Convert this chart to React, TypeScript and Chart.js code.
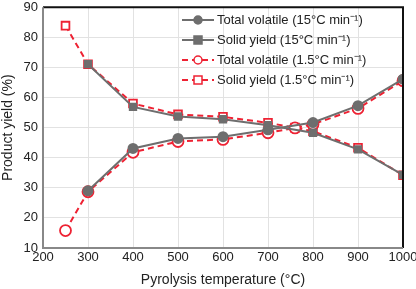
import React, { useEffect, useRef } from "react";
import { Chart, registerables } from "chart.js";

Chart.register(...registerables);

const xFast = [300, 400, 500, 600, 700, 800, 900, 1000];
const volatileFast = [29.0, 43.1, 46.4, 47.0, 49.3, 51.7, 57.3, 66.1];
const solidFast = [71.1, 56.9, 53.7, 52.8, 50.8, 48.3, 42.8, 34.3];

const xSlow = [250, 300, 400, 500, 600, 700, 760, 800, 900, 1000];
const volatileSlow = [15.8, 28.7, 41.8, 45.4, 46.1, 48.3, 49.9, 51.1, 56.4, 65.6];
const solidSlow = [83.9, 71.1, 58.0, 54.4, 53.6, 51.6, 50.0, 48.8, 43.3, 34.2];

const legendLabels = [
  "Total volatile (15\u00B0C min\u207B\u00B9)",
  "Solid yield (15\u00B0C min\u207B\u00B9)",
  "Total volatile (1.5\u00B0C min\u207B\u00B9)",
  "Solid yield (1.5\u00B0C min\u207B\u00B9)",
];

const GREY = "#6e6e6e";
const RED = "#ee2233";
const FONT = "'Liberation Sans', Arial, sans-serif";

const toPts = (xs: number[], ys: number[]) => xs.map((x, i) => ({ x, y: ys[i] }));

const framePlugin = {
  id: "frame",
  afterDatasetsDraw(chart: any) {
    const { ctx, chartArea: a } = chart;
    ctx.save();
    ctx.lineWidth = 2;
    ctx.strokeStyle = "#111";
    ctx.beginPath();
    ctx.moveTo(a.left, a.top);
    ctx.lineTo(a.right, a.top);
    ctx.lineTo(a.right, a.bottom);
    ctx.stroke();
    ctx.strokeStyle = "#888";
    ctx.beginPath();
    ctx.moveTo(a.left, a.top);
    ctx.lineTo(a.left, a.bottom);
    ctx.lineTo(a.right, a.bottom);
    ctx.stroke();
    ctx.restore();
  },
};

const legendPlugin = {
  id: "customLegend",
  afterDraw(chart: any) {
    const { ctx } = chart;
    const x0 = 182, x1 = 214, tx = 217;
    const rows = [20, 40, 60, 80];
    ctx.save();
    rows.forEach((y, i) => {
      const ds = chart.data.datasets[i];
      ctx.strokeStyle = ds.borderColor;
      ctx.lineWidth = 2;
      ctx.setLineDash(i >= 2 ? [6, 4] : []);
      ctx.beginPath();
      ctx.moveTo(x0, y);
      ctx.lineTo(x1, y);
      ctx.stroke();
      ctx.setLineDash([]);
      const cx = (x0 + x1) / 2;
      ctx.fillStyle = ds.pointBackgroundColor;
      ctx.strokeStyle = ds.borderColor;
      ctx.lineWidth = 1.5;
      ctx.beginPath();
      if (ds.pointStyle === "circle") ctx.arc(cx, y, 4, 0, Math.PI * 2);
      else ctx.rect(cx - 4, y - 4, 8, 8);
      ctx.fill();
      ctx.stroke();
      ctx.fillStyle = "#222";
      ctx.font = `13px ${FONT}`;
      ctx.textBaseline = "middle";
      ctx.textAlign = "left";
      ctx.fillText(legendLabels[i], tx, y);
    });
    ctx.restore();
  },
};

export default function App() {
  const ref = useRef<HTMLCanvasElement | null>(null);
  useEffect(() => {
    document.body.style.margin = "0";
    const chart = new Chart(ref.current as HTMLCanvasElement, {
      type: "line",
      data: {
        datasets: [
          {
            label: legendLabels[0],
            data: toPts(xFast, volatileFast),
            borderColor: GREY,
            backgroundColor: GREY,
            pointBackgroundColor: GREY,
            pointStyle: "circle",
            pointRadius: 4.5,
            borderWidth: 2,
          },
          {
            label: legendLabels[1],
            data: toPts(xFast, solidFast),
            borderColor: GREY,
            backgroundColor: GREY,
            pointBackgroundColor: GREY,
            pointStyle: "rect",
            pointRadius: 4.5,
            borderWidth: 2,
          },
          {
            label: legendLabels[2],
            data: toPts(xSlow, volatileSlow),
            borderColor: RED,
            backgroundColor: "#fff",
            pointBackgroundColor: "#fff",
            pointStyle: "circle",
            pointRadius: 5.5,
            pointBorderWidth: 1.8,
            borderWidth: 2,
            borderDash: [6, 4],
          },
          {
            label: legendLabels[3],
            data: toPts(xSlow, solidSlow),
            borderColor: RED,
            backgroundColor: "#fff",
            pointBackgroundColor: "#fff",
            pointStyle: "rect",
            pointRadius: 5.5,
            pointBorderWidth: 1.8,
            borderWidth: 2,
            borderDash: [6, 4],
          },
        ],
      } as any,
      options: {
        animation: false,
        responsive: false,
        layout: { padding: { top: 5, right: 13, left: 0, bottom: 0 } },
        plugins: { legend: { display: false }, tooltip: { enabled: false } },
        scales: {
          x: {
            type: "linear",
            min: 200,
            max: 1000,
            ticks: {
              stepSize: 100,
              color: "#222",
              font: { family: FONT, size: 13 },
              padding: 2,
              callback: (v: any) => String(v),
            },
            grid: { color: "#e2e2e2", drawTicks: false },
            border: { display: false },
            title: {
              display: true,
              text: "Pyrolysis temperature (\u00B0C)",
              color: "#222",
              font: { family: FONT, size: 14 },
              padding: { top: 2, bottom: 0 },
            },
            afterFit(s: any) {
              s.height = 41;
              s.paddingLeft = 0;
              s.paddingRight = 0;
            },
          },
          y: {
            min: 10,
            max: 90,
            ticks: {
              stepSize: 10,
              color: "#222",
              font: { family: FONT, size: 13 },
              padding: 5,
              callback: (v: any) => String(v),
            },
            grid: { color: "#e2e2e2", drawTicks: false },
            border: { display: false },
            title: {
              display: true,
              text: "Product yield (%)",
              color: "#222",
              font: { family: FONT, size: 14 },
              padding: { top: 0, bottom: 2 },
            },
            afterFit(s: any) {
              s.width = 43;
              s.paddingTop = 0;
              s.paddingBottom = 0;
            },
          },
        },
      } as any,
      plugins: [framePlugin, legendPlugin],
    });
    return () => chart.destroy();
  }, []);
  return (
    <div style={{ width: 416, height: 289 }}>
      <canvas ref={ref} width={416} height={289} />
    </div>
  );
}
